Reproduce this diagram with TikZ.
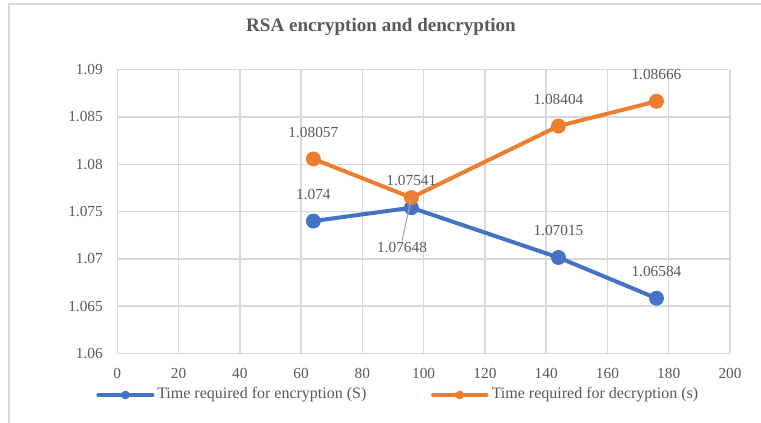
\documentclass[tikz,border=0pt]{standalone}
\usepackage{fontspec}
\setmainfont{Liberation Serif}
\definecolor{encblue}{HTML}{4472C4}
\definecolor{decorange}{HTML}{ED7D31}
\definecolor{gridgray}{HTML}{D9D9D9}
\definecolor{txtgray}{HTML}{595959}
\definecolor{leadergray}{HTML}{A6A6A6}
\begin{document}
\begin{tikzpicture}[x=0.75pt,y=-0.75pt,
  ticklabel/.style={text=txtgray,inner sep=0pt,font=\fontsize{11.5}{13}\selectfont},
  legendlabel/.style={text=txtgray,inner sep=0pt,font=\fontsize{12}{14}\selectfont},
  datalabel/.style={text=txtgray,inner sep=1pt,font=\fontsize{11.5}{13}\selectfont},
  gridline/.style={gridgray,line width=1.1pt},
  series/.style={line width=3pt,line join=round},
  mark dot/.style={circle,fill=#1,draw=none,minimum size=11.2pt,inner sep=0pt},
  legend dot/.style={circle,fill=#1,draw=none,minimum size=6.5pt,inner sep=0pt},
  legendline/.style={line width=2.4pt,line cap=round}]
\useasboundingbox (0,0) rectangle (761,423);
\fill[white] (0,0) rectangle (761,423);
% chart frame (top and left edges)
\draw[gridgray,line width=1.1pt] (9,423) -- (9,4) -- (761,4);
% title
\node[text=txtgray,font=\bfseries\fontsize{14.3}{16}\selectfont] (title) at (381,27) {RSA encryption and dencryption};

% plot area: x in data units, y in thousandths above 1.06
\begin{scope}[shift={(87.975pt,-265.125pt)},x=2.2976pt,y=7.095pt]
  \foreach \gx in {20,40,...,200} \draw[gridline] (\gx,0) -- (\gx,30);
  \foreach \gy in {5,10,...,30} \draw[gridline] (0,\gy) -- (200,\gy);
  \draw[gridline] (0,0) -- (0,30);
  \draw[gridline] (0,0) -- (200,0);
  % axis labels
  \foreach \gx in {0,20,...,200} \node[ticklabel] at (\gx,-2.1) {\gx};
  \foreach \gy/\lab in {0/1.06,5/1.065,10/1.07,15/1.075,20/1.08,25/1.085,30/1.09}
    \node[ticklabel,anchor=east] at ([xshift=-10.7pt]0,\gy) {\lab};

  % data points
  \coordinate (e1) at (64,14.00);
  \coordinate (e2) at (96,15.41);
  \coordinate (e3) at (144,10.15);
  \coordinate (e4) at (176,5.84);
  \coordinate (d1) at (64,20.57);
  \coordinate (d2) at (96,16.48);
  \coordinate (d3) at (144,24.04);
  \coordinate (d4) at (176,26.66);

  \draw[series,encblue] (e1) -- (e2) -- (e3) -- (e4);
  \draw[series,decorange] (d1) -- (d2) -- (d3) -- (d4);
  \foreach \p in {e1,e2,e3,e4} \node[mark dot=encblue] at (\p) {};
  \foreach \p in {d1,d2,d3,d4} \node[mark dot=decorange] at (\p) {};

  % value labels
  \node[datalabel] (le1) at ([yshift=20pt]e1) {1.074};
  \node[datalabel] (le2) at ([yshift=20.5pt]e2) {1.07541};
  \node[datalabel] (le3) at ([yshift=20pt]e3) {1.07015};
  \node[datalabel] (le4) at ([yshift=20pt]e4) {1.06584};
  \node[datalabel] (ld1) at ([yshift=20pt]d1) {1.08057};
  \node[datalabel] (ld2) at ([xshift=-7pt,yshift=-37.5pt]d2) {1.07648};
  \node[datalabel] (ld3) at ([yshift=20pt]d3) {1.08404};
  \node[datalabel] (ld4) at ([yshift=20pt]d4) {1.08666};
  \draw[leadergray,line width=0.8pt] (d2) -- (ld2.north);
\end{scope}

% legend
\coordinate (la) at (98,395);
\coordinate (lb) at (152.7,395);
\draw[legendline,encblue] (la) -- (lb);
\node[legend dot=encblue] (lm1) at (125.5,395) {};
\node[legendlabel,anchor=west] (lt1) at (157,395) {Time required for encryption (S)};
\coordinate (lc) at (432.7,395);
\coordinate (ld) at (486.7,395);
\draw[legendline,decorange] (lc) -- (ld);
\node[legend dot=decorange] (lm2) at (459.7,395) {};
\node[legendlabel,anchor=west] (lt2) at (491.5,395) {Time required for decryption (s)};
\end{tikzpicture}
\end{document}
